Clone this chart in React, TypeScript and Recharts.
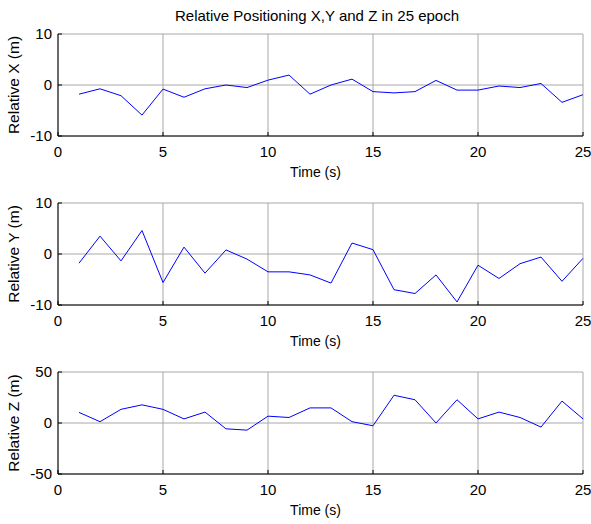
import React from "react";
import { LineChart, Line, XAxis, YAxis, CartesianGrid } from "recharts";

const epochs = [
  1, 2, 3, 4, 5, 6, 7, 8, 9, 10, 11, 12, 13, 14, 15, 16, 17, 18, 19, 20, 21, 22,
  23, 24, 25,
];
const relX = [
  -1.8, -0.75, -2.1, -5.9, -0.8, -2.4, -0.75, 0, -0.5, 0.95, 1.95, -1.8, 0,
  1.15, -1.3, -1.55, -1.3, 0.9, -1.0, -1.0, -0.2, -0.5, 0.3, -3.4, -1.9,
];
const relY = [
  -1.8, 3.5, -1.35, 4.6, -5.6, 1.35, -3.75, 0.8, -1.0, -3.5, -3.5, -4.1, -5.7,
  2.15, 0.85, -7.0, -7.75, -4.1, -9.4, -2.2, -4.8, -1.9, -0.6, -5.35, -0.85,
];
const relZ = [
  10.4, 1.3, 13.4, 17.8, 13.4, 4.0, 10.7, -5.7, -7.0, 6.7, 5.4, 14.8, 14.8, 1.3,
  -2.7, 27.2, 22.8, 0, 22.8, 4.0, 10.7, 5.4, -4.0, 21.5, 4.0,
];
const xTicks = [0, 5, 10, 15, 20, 25];
const yTicksXY = [-10, 0, 10];
const yTicksZ = [-50, 0, 50];

const FONT = "'Liberation Sans', Arial, Helvetica, sans-serif";
const W = 591;
const H = 190;

interface PanelProps {
  values: number[];
  ticks: number[];
  ylabel: string;
  top: number;
  title?: string;
}

function Panel({ values, ticks, ylabel, top, title }: PanelProps) {
  const rows = epochs.map((t, i) => ({ t, v: values[i] }));
  const lo = ticks[0];
  const hi = ticks[ticks.length - 1];
  const tickFont = { fill: "#000", fontSize: 15, fontFamily: FONT };
  return (
    <div style={{ position: "absolute", left: 0, top, width: W, height: H }}>
      <LineChart
        width={W}
        height={H}
        data={rows}
        margin={{ top: 34, right: 8, left: 8, bottom: H - 34 - 102 - 33 }}
      >
        <CartesianGrid stroke="#a8a8a8" strokeWidth={1} />
        <XAxis
          dataKey="t"
          type="number"
          domain={[0, 25]}
          ticks={xTicks}
          height={33}
          tickSize={-4}
          tickMargin={14}
          tickLine={{ stroke: "#000" }}
          axisLine={{ stroke: "#000" }}
          tick={tickFont}
          label={(p: any) => {
            const vb = p.viewBox;
            return (
              <text
                x={vb.x + vb.width / 2 - 5}
                y={vb.y + 41}
                textAnchor="middle"
                fontSize={14}
                fontFamily={FONT}
                fill="#000"
              >
                Time (s)
              </text>
            );
          }}
        />
        <XAxis
          xAxisId="top"
          orientation="top"
          type="number"
          domain={[0, 25]}
          ticks={xTicks}
          height={0}
          tick={false}
          tickSize={-4}
          tickLine={{ stroke: "#000" }}
          axisLine={{ stroke: "#000" }}
        />
        <YAxis
          type="number"
          domain={[lo, hi]}
          ticks={ticks}
          width={50}
          tickSize={-4}
          tickMargin={10}
          tickLine={{ stroke: "#000" }}
          axisLine={{ stroke: "#000" }}
          tick={tickFont}
          label={(p: any) => {
            const vb = p.viewBox;
            const cy = vb.y + vb.height / 2;
            return (
              <text
                x={18.5}
                y={cy}
                transform={`rotate(-90, 18.5, ${cy})`}
                textAnchor="middle"
                fontSize={15.5}
                fontFamily={FONT}
                fill="#000"
              >
                {ylabel}
              </text>
            );
          }}
        />
        <YAxis
          yAxisId="right"
          orientation="right"
          type="number"
          domain={[lo, hi]}
          ticks={ticks}
          width={0}
          tick={false}
          tickSize={-4}
          tickLine={{ stroke: "#000" }}
          axisLine={{ stroke: "#000" }}
        />
        <Line
          type="linear"
          dataKey="v"
          stroke="#0000ff"
          strokeWidth={1}
          dot={false}
          isAnimationActive={false}
        />
        {title && (
          <text
            x={317}
            y={21}
            textAnchor="middle"
            fontSize={15}
            fontFamily={FONT}
            fill="#000"
          >
            {title}
          </text>
        )}
      </LineChart>
    </div>
  );
}

export default function App() {
  return (
    <div
      style={{
        position: "absolute",
        left: 0,
        top: 0,
        width: W,
        height: 524,
        background: "#fff",
        overflow: "hidden",
      }}
    >
      <Panel
        values={relX}
        ticks={yTicksXY}
        ylabel="Relative X (m)"
        top={0}
        title="Relative Positioning X,Y and Z in 25 epoch"
      />
      <Panel
        values={relY}
        ticks={yTicksXY}
        ylabel="Relative Y (m)"
        top={169}
      />
      <Panel
        values={relZ}
        ticks={yTicksZ}
        ylabel="Relative Z (m)"
        top={338}
      />
    </div>
  );
}
